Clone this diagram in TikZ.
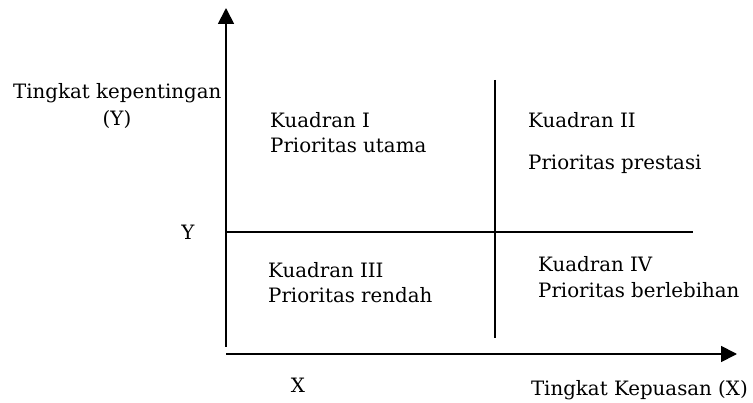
\documentclass[tikz,border=0pt]{standalone}
\usepackage{fontspec}
\setmainfont{DejaVu Serif}
\usetikzlibrary{arrows.meta}
\begin{document}
\begin{tikzpicture}[x=1pt,y=-1pt,
  lbl/.style={inner sep=0pt,font=\fontsize{19.8}{23}\selectfont},
  axis/.style={line width=1.8pt,-{Triangle[length=16pt,width=16pt]}},
  divider/.style={line width=1.6pt}]
\useasboundingbox (0,0) rectangle (753,403);
% axes
\coordinate (o) at (226,354);
\coordinate (ybot) at (226,347);
\coordinate (ytop) at (226,8);
\coordinate (xend) at (737,354);
\draw[axis] (ybot) -- (ytop);
\draw[axis] (o) -- (xend);
% dividers
\coordinate (hl) at (227,232);
\coordinate (hr) at (693,232);
\coordinate (vt) at (495,80);
\coordinate (vb) at (495,338);
\draw[divider] (hl) -- (hr);
\draw[divider] (vt) -- (vb);
% labels
\node[lbl,anchor=base west] (ylab) at (13,99) {Tingkat kepentingan};
\node[lbl,anchor=base] (ylab2) at (117,126) {(Y)};
\node[lbl,anchor=base] (ymark) at (188,240) {Y};
\node[lbl,anchor=base] (xmark) at (298,393) {X};
\node[lbl,anchor=base east] (xlab) at (748,396) {Tingkat Kepuasan (X)};
\node[lbl,anchor=base west] (q1a) at (270,128) {Kuadran I};
\node[lbl,anchor=base west] (q1b) at (270,153) {Prioritas utama};
\node[lbl,anchor=base west] (q2a) at (528,128) {Kuadran II};
\node[lbl,anchor=base west] (q2b) at (528,170) {Prioritas prestasi};
\node[lbl,anchor=base west] (q3a) at (268,278) {Kuadran III};
\node[lbl,anchor=base west] (q3b) at (268,303) {Prioritas rendah};
\node[lbl,anchor=base west] (q4a) at (538,272) {Kuadran IV};
\node[lbl,anchor=base west] (q4b) at (538,298) {Prioritas berlebihan};
\end{tikzpicture}
\end{document}
